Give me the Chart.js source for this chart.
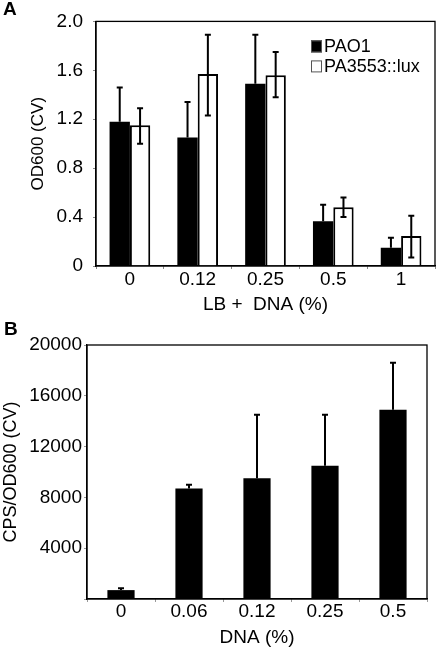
<!DOCTYPE html>
<html>
<head>
<meta charset="utf-8">
<script src="https://cdn.jsdelivr.net/npm/chart.js@4.4.1/dist/chart.umd.min.js"></script>
<style>
  body { margin: 0; background: #fff; width: 437px; height: 649px; position: relative; overflow: hidden; }
  .panel { position: absolute; left: 0; }
  .panel canvas { display: block; }
  .tag { position: absolute; font: bold 19px 'Liberation Sans', Arial, sans-serif; color: #000; }
</style>
</head>
<body>
<div class="panel" style="top:0"><canvas id="chartA" width="437" height="320"></canvas></div>
<div class="panel" style="top:320px"><canvas id="chartB" width="437" height="329"></canvas></div>
<div class="tag" style="left:3px;top:-2px">A</div>
<div class="tag" style="left:4px;top:318px">B</div>
<script>
// panel A: OD600 (CV) vs LB + DNA
var dnaA = ['0', '0.12', '0.25', '0.5', '1'];
var pao1 = [1.18, 1.05, 1.49, 0.365, 0.15];
var pao1Hi = [1.46, 1.34, 1.89, 0.50, 0.23];
var lux = [1.15, 1.57, 1.56, 0.48, 0.245];
var luxHi = [1.29, 1.89, 1.75, 0.56, 0.41];
var luxLo = [1.00, 1.23, 1.38, 0.40, 0.07];
var yTicksA = ['0', '0.4', '0.8', '1.2', '1.6', '2.0'];

// panel B: CPS/OD600 (CV) vs DNA
var dnaB = ['0', '0.06', '0.12', '0.25', '0.5'];
var cps = [700, 8700, 9500, 10500, 14900];
var cpsHi = [850, 9000, 14500, 14500, 18600];
var yTicksB = ['', '4000', '8000', '12000', '16000', '20000'];

Chart.defaults.font.family = "'Liberation Sans', Arial, sans-serif";
Chart.defaults.font.size = 18;
Chart.defaults.color = '#000';

var errorBars = {
    id: 'errorBars',
    afterDatasetsDraw: function (chart) {
        var ctx = chart.ctx, y = chart.scales.y;
        ctx.save();
        ctx.strokeStyle = '#000';
        ctx.lineWidth = 2;
        chart.data.datasets.forEach(function (ds, i) {
            var meta = chart.getDatasetMeta(i);
            meta.data.forEach(function (bar, j) {
                var top = y.getPixelForValue(ds.errHi[j]);
                var bot = ds.errLo ? y.getPixelForValue(ds.errLo[j]) : bar.y;
                ctx.beginPath();
                ctx.moveTo(bar.x, bot);
                ctx.lineTo(bar.x, top);
                ctx.moveTo(bar.x - 3, top);
                ctx.lineTo(bar.x + 3, top);
                if (ds.errLo) {
                    ctx.moveTo(bar.x - 3, bot);
                    ctx.lineTo(bar.x + 3, bot);
                }
                ctx.stroke();
            });
        });
        ctx.restore();
    }
};

var frame = {
    id: 'frame',
    afterDraw: function (chart) {
        var a = chart.chartArea, ctx = chart.ctx;
        ctx.save();
        ctx.strokeStyle = '#000';
        ctx.lineWidth = 1.3;
        ctx.strokeRect(a.left, a.top, a.right - a.left, a.bottom - a.top);
        ctx.restore();
    }
};

var boxLegend = {
    id: 'boxLegend',
    afterDraw: function (chart) {
        var a = chart.chartArea, ctx = chart.ctx;
        ctx.save();
        ctx.font = "18px 'Liberation Sans', Arial, sans-serif";
        ctx.textBaseline = 'middle';
        chart.data.datasets.forEach(function (ds, i) {
            var x = a.left + 215, y = a.top + 25 + i * 20;
            ctx.fillStyle = ds.backgroundColor;
            ctx.fillRect(x, y - 6, 11, 12);
            ctx.strokeStyle = '#555';
            ctx.lineWidth = 1;
            ctx.strokeRect(x + 0.5, y - 5.5, 10, 11);
            ctx.fillStyle = '#000';
            ctx.fillText(ds.label, x + 13, y + 1);
        });
        ctx.restore();
    }
};

new Chart(document.getElementById('chartA').getContext('2d'), {
    type: 'bar',
    data: {
        labels: dnaA,
        datasets: [
            { label: 'PAO1', data: pao1, errHi: pao1Hi, backgroundColor: '#000', borderColor: '#000', borderWidth: 0 },
            { label: 'PA3553::lux', data: lux, errHi: luxHi, errLo: luxLo, backgroundColor: '#fff', borderColor: '#000', borderWidth: 2 }
        ]
    },
    options: {
        responsive: false,
        animation: false,
        layout: { padding: { top: 16, right: 2, left: 0, bottom: 0 } },
        datasets: { bar: { categoryPercentage: 0.6, barPercentage: 1.0 } },
        plugins: { legend: { display: false }, tooltip: { enabled: false } },
        scales: {
            x: {
                grid: { drawOnChartArea: false, tickLength: 3, color: '#888' },
                border: { color: '#000', width: 1.3 },
                ticks: { padding: -1, font: { size: 19 } },
                title: { display: true, text: 'LB +  DNA (%)', font: { size: 19 }, padding: { top: 0, bottom: 4 } },
                afterFit: function (s) { s.height = 54; }
            },
            y: {
                min: 0, max: 2,
                grid: { drawOnChartArea: false, tickLength: 3, color: '#888' },
                border: { color: '#000', width: 1.3 },
                ticks: { stepSize: 0.4, padding: 10, font: { size: 19 }, callback: function (v, i) { return yTicksA[i]; } },
                title: { display: true, text: 'OD600 (CV)', font: { size: 17 }, padding: { top: 28, bottom: 0 } },
                afterFit: function (s) { s.width = 96; }
            }
        }
    },
    plugins: [errorBars, frame, boxLegend]
});

new Chart(document.getElementById('chartB').getContext('2d'), {
    type: 'bar',
    data: {
        labels: dnaB,
        datasets: [
            { label: 'CPS/OD600', data: cps, errHi: cpsHi, backgroundColor: '#000', borderWidth: 0 }
        ]
    },
    options: {
        responsive: false,
        animation: false,
        layout: { padding: { top: 25, right: 10, left: 0, bottom: 0 } },
        datasets: { bar: { categoryPercentage: 0.4, barPercentage: 1.0 } },
        plugins: { legend: { display: false }, tooltip: { enabled: false } },
        scales: {
            x: {
                grid: { drawOnChartArea: false, tickLength: 3, color: '#999' },
                border: { color: '#000', width: 1.3 },
                ticks: { padding: -2, font: { size: 19 } },
                title: { display: true, text: 'DNA (%)', font: { size: 19 }, padding: { top: 0, bottom: 0 } },
                afterFit: function (s) { s.height = 50; }
            },
            y: {
                min: 0, max: 20000,
                grid: { drawOnChartArea: false, tickLength: 3, color: '#999' },
                border: { color: '#000', width: 1.3 },
                ticks: { stepSize: 4000, padding: 2, font: { size: 19 }, callback: function (v, i) { return yTicksB[i]; } },
                title: { display: true, text: 'CPS/OD600 (CV)', padding: { top: 0, bottom: 0 } },
                afterFit: function (s) { s.width = 87; }
            }
        }
    },
    plugins: [errorBars, frame]
});
</script>
</body>
</html>
